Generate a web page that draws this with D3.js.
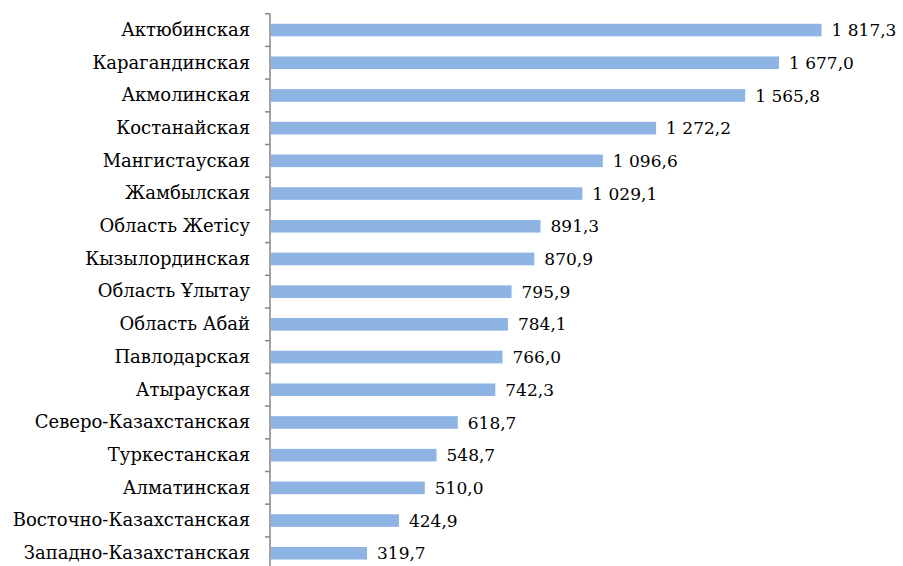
<!DOCTYPE html>
<html><head><meta charset="utf-8">
<script src="https://cdn.jsdelivr.net/npm/d3@7"></script>
<style>body{margin:0;background:#fff}svg{display:block}</style>
</head><body>
<script>
const categories = ["Актюбинская","Карагандинская","Акмолинская","Костанайская","Мангистауская","Жамбылская","Область Жетісу","Кызылординская","Область Ұлытау","Область Абай","Павлодарская","Атырауская","Северо-Казахстанская","Туркестанская","Алматинская","Восточно-Казахстанская","Западно-Казахстанская"];
const values = [1817.3,1677.0,1565.8,1272.2,1096.6,1029.1,891.3,870.9,795.9,784.1,766.0,742.3,618.7,548.7,510.0,424.9,319.7];

const W=903,H=566;
const svg=d3.select("body").append("svg").attr("width",W).attr("height",H);
const x=d3.scaleLinear().domain([0,2000]).range([270,877]);
const y=d3.scaleBand().domain(categories).range([13.7,13.7+17*32.7]).paddingInner(0.6).paddingOuter(0.3);
const fmt=v=>{const s=v.toFixed(1).replace(".",",");const [i,d]=s.split(",");return i.replace(/\B(?=(\d{3})+(?!\d))/g," ")+","+d;};
const font="'DejaVu Serif', serif";

svg.selectAll("rect.bar").data(values).join("rect").attr("class","bar")
 .attr("x",x(0)+1).attr("y",(d,i)=>y(categories[i])+y.bandwidth()/2-6.3)
 .attr("width",d=>x(d)-x(0)-1).attr("height",12.6).attr("fill","#8EB4E3");

svg.selectAll("text.val").data(values).join("text").attr("class","val")
 .attr("x",d=>x(d)+10).attr("y",(d,i)=>y(categories[i])+y.bandwidth()/2).attr("dy","0.36em")
 .attr("font-family",font).attr("font-size",17).attr("fill","#000").text(d=>fmt(d));

const yAxis=d3.axisLeft(y).tickSize(0).tickPadding(20);
const g=svg.append("g").attr("transform",`translate(${x(0)},0)`).call(yAxis);
g.select(".domain").attr("stroke","#868686").attr("stroke-width",1.5);
g.selectAll("text").attr("font-family",font).attr("font-size",18).attr("fill","#000");
// tick marks at band boundaries
const bounds=d3.range(18).map(i=>13.7+i*32.7);
svg.selectAll("line.tk").data(bounds).join("line").attr("class","tk")
 .attr("x1",x(0)-5).attr("x2",x(0)).attr("y1",d=>d).attr("y2",d=>d)
 .attr("stroke","#868686").attr("stroke-width",1.5);
g.select(".domain").attr("d",`M0,${bounds[0]}V${bounds[17]}`);
</script>
</body></html>
